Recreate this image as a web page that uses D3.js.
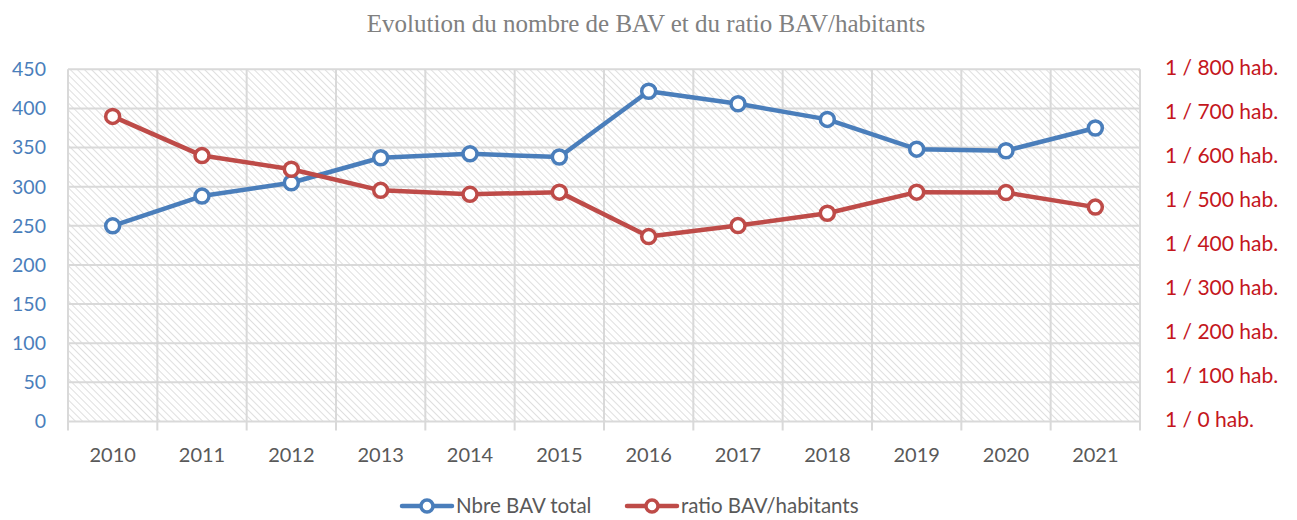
<!DOCTYPE html>
<html lang="fr">
<head>
<meta charset="UTF-8">
<title>Evolution du nombre de BAV</title>
<script src="https://d3js.org/d3.v7.min.js"></script>
<style>
  body { margin: 0; background: #fff; }
  svg text { font-family: Lato, 'Open Sans', sans-serif; }
</style>
</head>
<body>
<svg width="1297" height="520"></svg>
<script>
const years = ["2010", "2011", "2012", "2013", "2014", "2015", "2016", "2017", "2018", "2019", "2020", "2021"];
const bavTotal = [250, 288, 305, 337, 342, 338, 422, 406, 386, 348, 346, 375];
const ratioHab = [693, 604, 573, 525, 516, 521, 420, 445, 473, 521, 520, 487];
const leftTicks = [0, 50, 100, 150, 200, 250, 300, 350, 400, 450];
const rightTicks = [0, 100, 200, 300, 400, 500, 600, 700, 800];

const blue = "#4a7ebb", red = "#be4b48";
const svg = d3.select("svg");
const plotL = 68, plotR = 1140, plotT = 69.3, plotB = 421.5;

const x = d3.scaleBand().domain(years).range([plotL, plotR]);
const yL = d3.scaleLinear().domain([0, 450]).range([plotB, plotT]);
const yR = d3.scaleLinear().domain([0, 800]).range([plotB, plotT]);

// hatch pattern
const defs = svg.append("defs");
const pat = defs.append("pattern")
    .attr("id", "hatch")
    .attr("patternUnits", "userSpaceOnUse")
    .attr("width", 5).attr("height", 5)
    .attr("patternTransform", "rotate(-45)");
pat.append("rect").attr("width", 5).attr("height", 5).attr("fill", "#fff");
pat.append("line").attr("x1", 0).attr("y1", 0).attr("x2", 0).attr("y2", 5)
    .attr("stroke", "#dcdcdc").attr("stroke-width", 1.8);

svg.append("rect")
    .attr("x", plotL).attr("y", plotT)
    .attr("width", plotR - plotL).attr("height", plotB - plotT)
    .attr("fill", "url(#hatch)");

// grid
svg.append("g").selectAll("line").data(leftTicks).join("line")
    .attr("x1", plotL).attr("x2", plotR)
    .attr("y1", d => yL(d)).attr("y2", d => yL(d))
    .attr("stroke", "#d9d9d9").attr("stroke-width", 2);

const bounds = years.map(y => x(y)).concat([plotR]);
svg.append("g").selectAll("line").data(bounds).join("line")
    .attr("x1", d => d).attr("x2", d => d)
    .attr("y1", plotT).attr("y2", plotB + 9)
    .attr("stroke", "#d9d9d9").attr("stroke-width", 2);

// left axis labels
svg.append("g").selectAll("text").data(leftTicks).join("text")
    .attr("x", 46).attr("y", d => yL(d)).attr("dy", "0.35em")
    .attr("text-anchor", "end")
    .attr("fill", blue).style("font-size", "19.5px")
    .text(d => d);

// right axis labels
svg.append("g").selectAll("text").data(rightTicks).join("text")
    .attr("x", 1165).attr("y", d => yR(d) - 2).attr("dy", "0.35em")
    .attr("fill", "#c4161c").style("font-size", "21px")
    .text(d => `1 / ${d} hab.`);

// x labels
svg.append("g").selectAll("text").data(years).join("text")
    .attr("x", d => x(d) + x.bandwidth() / 2).attr("y", 455).attr("dy", "0.35em")
    .attr("text-anchor", "middle")
    .attr("fill", "#595959").style("font-size", "20px")
    .text(d => d);

// title
svg.append("text")
    .attr("x", 646).attr("y", 23).attr("dy", "0.35em")
    .attr("text-anchor", "middle")
    .attr("fill", "#808080")
    .style("font-family", "'Liberation Serif', 'DejaVu Serif', serif")
    .style("font-size", "25px")
    .text("Evolution du nombre de BAV et du ratio BAV/habitants");

function drawSeries(vals, scale, color) {
    const pts = vals.map((v, i) => [x(years[i]) + x.bandwidth() / 2, scale(v)]);
    svg.append("path")
        .attr("d", d3.line()(pts))
        .attr("fill", "none").attr("stroke", color)
        .attr("stroke-width", 4.5).attr("stroke-linejoin", "round").attr("stroke-linecap", "round");
    svg.append("g").selectAll("circle").data(pts).join("circle")
        .attr("cx", d => d[0]).attr("cy", d => d[1]).attr("r", 7)
        .attr("fill", "#fff").attr("stroke", color).attr("stroke-width", 3.5);
}
drawSeries(bavTotal, yL, blue);
drawSeries(ratioHab, yR, red);

// legend
const legend = [
    { label: "Nbre BAV total", color: blue, x: 402 },
    { label: "ratio BAV/habitants", color: red, x: 627 }
];
const lg = svg.append("g").selectAll("g").data(legend).join("g")
    .attr("transform", d => `translate(${d.x},506)`);
lg.append("line").attr("x1", 0).attr("x2", 50)
    .attr("stroke", d => d.color).attr("stroke-width", 4.5).attr("stroke-linecap", "round");
lg.append("circle").attr("cx", 25).attr("r", 6)
    .attr("fill", "#fff").attr("stroke", d => d.color).attr("stroke-width", 3.5);
lg.append("text").attr("x", 54).attr("dy", "0.35em")
    .attr("fill", "#595959").style("font-size", "20.5px")
    .text(d => d.label);
</script>
</body>
</html>
